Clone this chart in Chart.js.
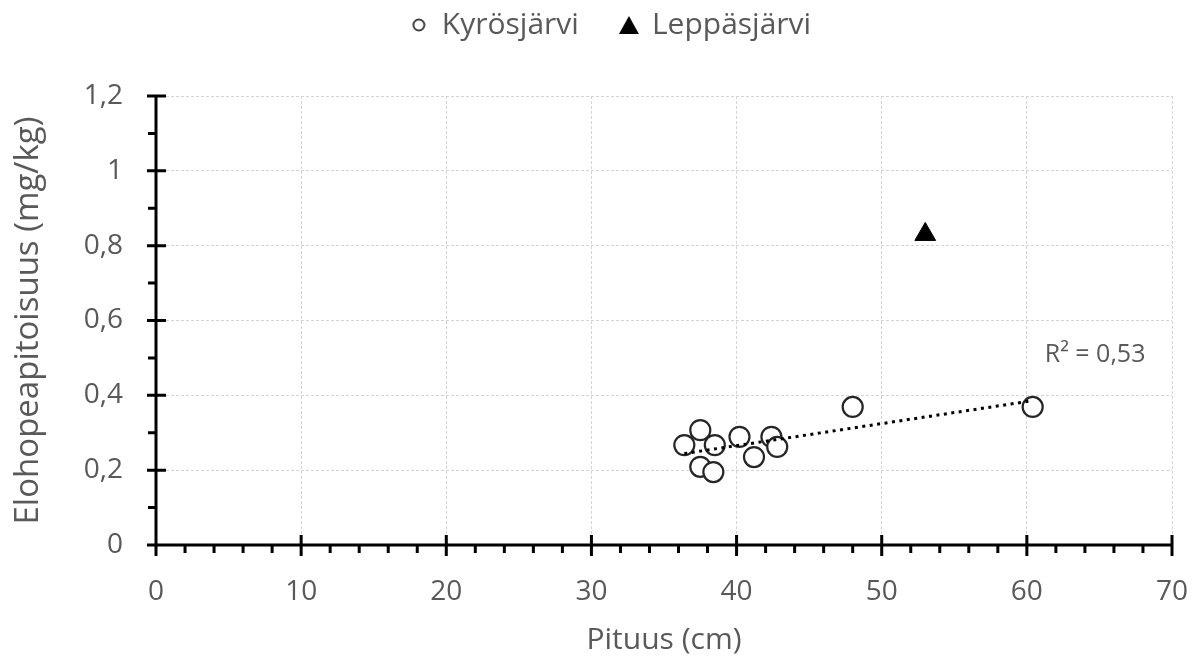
<!DOCTYPE html>
<html>
<head>
<meta charset="utf-8">
<script src="https://cdn.jsdelivr.net/npm/chart.js@4.4.0/dist/chart.umd.min.js"></script>
<style>
  body { margin: 0; background: #fff; }
  #wrap { width: 1192px; height: 658px; }
</style>
</head>
<body>
<div id="wrap"><canvas id="elohopeaChart"></canvas></div>
<script>
// Kyrösjärvi: pituus (cm) ja elohopeapitoisuus (mg/kg)
const kyrosPituus = [36.4, 37.5, 38.5, 37.5, 38.4, 40.2, 41.2, 42.4, 42.8, 48.0, 60.4];
const kyrosHg = [0.267, 0.307, 0.267, 0.209, 0.195, 0.289, 0.235, 0.289, 0.262, 0.369, 0.369];
// Leppäsjärvi
const leppaPituus = [53.0];
const leppaHg = [0.83];

const xTicks = [0, 10, 20, 30, 40, 50, 60, 70];
const yTicks = [0, 0.2, 0.4, 0.6, 0.8, 1, 1.2];
const r2Teksti = 'R² = 0,53';

const gray = '#595959';
const fontFam = '"Open Sans", "Noto Sans", sans-serif';

// lineaarinen trendi Kyrösjärven pisteistä
function trendi(xs, ys) {
    const n = xs.length;
    const mx = xs.reduce((a, b) => a + b, 0) / n;
    const my = ys.reduce((a, b) => a + b, 0) / n;
    let sxy = 0, sxx = 0;
    for (let i = 0; i < n; i++) {
        sxy += (xs[i] - mx) * (ys[i] - my);
        sxx += (xs[i] - mx) * (xs[i] - mx);
    }
    const k = sxy / sxx;
    const x0 = Math.min(...xs), x1 = Math.max(...xs);
    return [{ x: x0, y: my + k * (x0 - mx) }, { x: x1, y: my + k * (x1 - mx) }];
}

// legendan pienet merkit
function ympyraMerkki() {
    const c = document.createElement('canvas');
    c.width = 16; c.height = 16;
    const g = c.getContext('2d');
    g.strokeStyle = '#404040'; g.lineWidth = 2;
    g.beginPath(); g.arc(8, 8, 5.5, 0, Math.PI * 2); g.stroke();
    return c;
}
function kolmioMerkki() {
    const c = document.createElement('canvas');
    c.width = 22; c.height = 20;
    const g = c.getContext('2d');
    g.fillStyle = '#000';
    g.beginPath(); g.moveTo(11, 1); g.lineTo(21, 19); g.lineTo(1, 19); g.closePath(); g.fill();
    return c;
}
const legendaMerkit = [ympyraMerkki(), kolmioMerkki()];

const akselit = {
    id: 'akselit',
    afterDraw(chart) {
        const ctx = chart.ctx;
        const xs = chart.scales.x, ys = chart.scales.y;
        const ax = xs.getPixelForValue(0), ay = ys.getPixelForValue(0);
        ctx.save();
        ctx.strokeStyle = '#000';
        ctx.lineWidth = 3;
        ctx.beginPath();
        ctx.moveTo(ax, ys.getPixelForValue(1.2));
        ctx.lineTo(ax, ay);
        ctx.lineTo(xs.getPixelForValue(70), ay);
        // y-akselin merkit
        for (let i = 0; i <= 12; i++) {
            const py = ys.getPixelForValue(i / 10);
            if (i % 2 === 0) { ctx.moveTo(ax - 9, py); ctx.lineTo(ax + 10, py); }
            else { ctx.moveTo(ax - 8, py); ctx.lineTo(ax, py); }
        }
        // x-akselin merkit
        for (let v = 0; v <= 70; v += 2) {
            const px = xs.getPixelForValue(v);
            if (v % 10 === 0) { ctx.moveTo(px, ay - 10); ctx.lineTo(px, ay + 11); }
            else { ctx.moveTo(px, ay); ctx.lineTo(px, ay + 8); }
        }
        ctx.stroke();
        // R²-teksti
        ctx.fillStyle = gray;
        ctx.font = '25px ' + fontFam;
        ctx.textAlign = 'center';
        ctx.textBaseline = 'middle';
        ctx.fillText(r2Teksti, xs.getPixelForValue(64.7), ys.getPixelForValue(0.507));
        ctx.restore();
    }
};

// lisätilaa legendan alle ja pieni siirto oikealle
const legendaVali = {
    id: 'legendaVali',
    afterInit(chart) {
        const lg = chart.legend;
        const fit = lg.fit;
        lg.fit = function () {
            fit.call(this);
            this.height += 46;
        };
        const draw = lg.draw;
        lg.draw = function () {
            const c = this.ctx;
            c.save();
            c.translate(15, 0);
            draw.call(this);
            c.restore();
        };
    }
};

const ctx = document.getElementById('elohopeaChart').getContext('2d');
const chart = new Chart(ctx, {
    type: 'scatter',
    data: {
        datasets: [{
            label: 'Kyrösjärvi',
            data: kyrosPituus.map((x, i) => ({ x: x, y: kyrosHg[i] })),
            pointStyle: 'circle',
            pointRadius: 10,
            backgroundColor: '#fff',
            borderColor: '#262626',
            borderWidth: 2.2,
            order: 1
        }, {
            label: 'Leppäsjärvi',
            data: leppaPituus.map((x, i) => ({ x: x, y: leppaHg[i] })),
            pointStyle: 'triangle',
            pointRadius: 12,
            backgroundColor: '#000',
            borderColor: '#000',
            borderWidth: 1,
            order: 1
        }, {
            type: 'line',
            label: 'trendi',
            data: trendi(kyrosPituus, kyrosHg),
            borderColor: '#000',
            borderWidth: 3,
            borderDash: [3, 4.5],
            pointRadius: 0,
            fill: false,
            order: 0
        }]
    },
    options: {
        responsive: true,
        maintainAspectRatio: false,
        animation: false,
        layout: { padding: { top: -32, right: 0, left: 0, bottom: 0 } },
        plugins: {
            legend: {
                position: 'top',
                labels: {
                    usePointStyle: true,
                    pointStyleWidth: 16,
                    color: gray,
                    font: { family: fontFam, size: 30 },
                    padding: 42,
                    filter: item => item.text !== 'trendi',
                    generateLabels: chart => {
                        const items = Chart.defaults.plugins.legend.labels.generateLabels(chart);
                        items.forEach(it => {
                            if (it.datasetIndex < legendaMerkit.length) it.pointStyle = legendaMerkit[it.datasetIndex];
                        });
                        return items;
                    }
                }
            },
            tooltip: { enabled: false }
        },
        scales: {
            x: {
                type: 'linear',
                min: 0, max: 70,
                afterBuildTicks: s => { s.ticks = xTicks.map(v => ({ value: v })); },
                afterFit: s => { s.height = 113; s.paddingRight = 20; },
                ticks: { color: gray, font: { family: fontFam, size: 28 }, padding: 30 },
                grid: { color: '#d4d4d4', drawTicks: false },
                border: { display: false, dash: [3, 2] },
                title: { display: true, text: 'Pituus (cm)', color: gray, font: { family: fontFam, size: 30 }, padding: { bottom: 0, top: 0 } }
            },
            y: {
                type: 'linear',
                min: 0, max: 1.2,
                afterBuildTicks: s => { s.ticks = yTicks.map(v => ({ value: v })); },
                afterFit: s => { s.width = 156; },
                ticks: {
                    color: gray, font: { family: fontFam, size: 28 }, padding: 33,
                    callback: v => (Math.round(v * 10) / 10).toString().replace('.', ',')
                },
                grid: { color: '#d4d4d4', drawTicks: false },
                border: { display: false, dash: [3, 2] },
                title: { display: true, text: 'Elohopeapitoisuus (mg/kg)', color: gray, font: { family: fontFam, size: 33 }, padding: { top: 9, bottom: 0 } }
            }
        }
    },
    plugins: [legendaVali, akselit]
});
</script>
</body>
</html>
